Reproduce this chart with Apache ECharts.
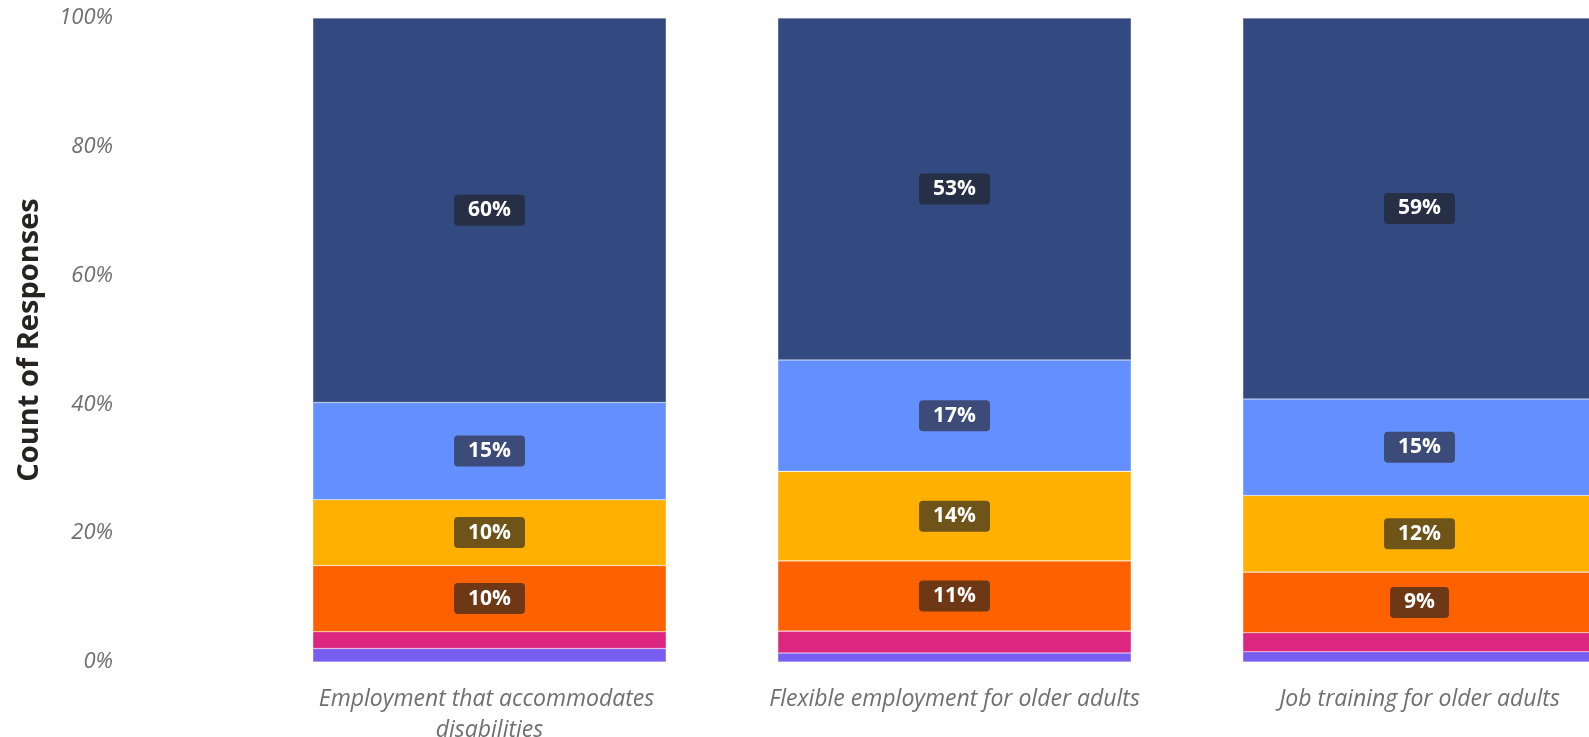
<!DOCTYPE html>
<html>
<head>
<meta charset="utf-8">
<script src="https://cdn.jsdelivr.net/npm/echarts@6/dist/echarts.min.js"></script>
<style>
html,body{margin:0;padding:0;background:#fff;overflow:hidden;}
#chart{width:1589px;height:737px;}
</style>
</head>
<body>
<div id="chart"></div>
<script>
const categories = ['Employment that accommodates disabilities', 'Flexible employment for older adults', 'Job training for older adults'];
const yTicks = [0, 20, 40, 60, 80, 100];
const seriesNames = ['Response 6', 'Response 5', 'Response 4', 'Response 3', 'Response 2', 'Response 1'];
const purpleVals = [2.1, 1.4, 1.6];
const pinkVals = [2.6, 3.4, 2.95];
const orangeVals = [10.3, 10.9, 9.4];
const yellowVals = [10.2, 13.9, 11.9];
const lightBlueVals = [15.1, 17.3, 15.0];
const navyVals = [59.7, 53.1, 59.15];

const colors = ['#785EF0', '#DC267F', '#FE6100', '#FFB000', '#648FFF', '#324A80'];
const labelBg = [null, null, '#6E3817', '#6E5419', '#3C4B78', '#272F46'];
const allVals = [purpleVals, pinkVals, orangeVals, yellowVals, lightBlueVals, navyVals];

const chart = echarts.init(document.getElementById('chart'));
const series = allVals.map((vals, i) => ({
  name: seriesNames[i],
  type: 'bar',
  stack: 'total',
  barCategoryGap: '24%',
  data: vals,
  itemStyle: { color: colors[i], borderColor: 'rgba(255,255,255,0.35)', borderWidth: 0.6 },
  label: labelBg[i] ? {
    show: true,
    position: 'inside',
    formatter: p => Math.round(p.value) + '%',
    color: '#fff',
    fontFamily: 'Open Sans',
    fontWeight: 'bold',
    fontSize: 21,
    lineHeight: 23,
    backgroundColor: labelBg[i],
    borderRadius: 4,
    padding: [4, 14, 4, 14]
  } : { show: false },
  emphasis: { disabled: true }
}));

chart.setOption({
  animation: false,
  grid: { left: 257, right: -63, top: 18, bottom: 75, containLabel: false, outerBoundsMode: 'none' },
  xAxis: {
    type: 'category',
    data: categories,
    axisLine: { show: false },
    axisTick: { show: false },
    axisLabel: {
      interval: 0,
      margin: 22,
      width: 395,
      overflow: 'break',
      color: '#6f6f6f',
      fontFamily: 'Open Sans',
      fontStyle: 'italic',
      fontSize: 23,
      lineHeight: 31
    }
  },
  yAxis: {
    type: 'value',
    min: 0,
    max: 100,
    interval: 20,
    name: 'Count of Responses',
    nameLocation: 'middle',
    nameGap: 213,
    nameTextStyle: { fontFamily: 'Open Sans', fontWeight: 'bold', fontSize: 29, color: '#252423' },
    axisLine: { show: false },
    axisTick: { show: false },
    splitLine: { show: false },
    axisLabel: {
      margin: 144,
      color: '#6f6f6f',
      fontFamily: 'Open Sans',
      fontStyle: 'italic',
      fontSize: 22,
      formatter: v => yTicks.includes(v) ? v + '%' : ''
    }
  },
  series: series
});
</script>
</body>
</html>
